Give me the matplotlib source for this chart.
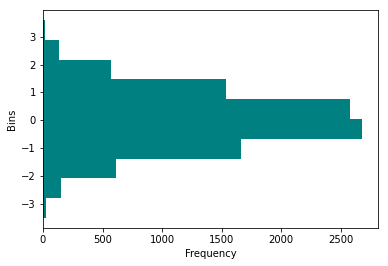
import matplotlib
matplotlib.use("Agg")
import matplotlib.pyplot as plt
import numpy as np

bin_edges = [-3.5, -2.79, -2.08, -1.37, -0.66, 0.04, 0.76, 1.47, 2.18, 2.89, 3.6]
counts = [25, 151, 613, 1665, 2680, 2580, 1535, 571, 134, 15]

edges = np.array(bin_edges)
centers = (edges[:-1] + edges[1:]) / 2

fig = plt.figure(figsize=(388/72, 266/72), dpi=72)
ax = fig.add_axes([43/388, 1-228/266, (378-43)/388, (228-10)/266])
ax.hist(centers, bins=edges, weights=counts, orientation='horizontal', color='teal')
ax.set_xlabel('Frequency')
ax.set_ylabel('Bins')
fig.savefig('out.png', dpi=72)
